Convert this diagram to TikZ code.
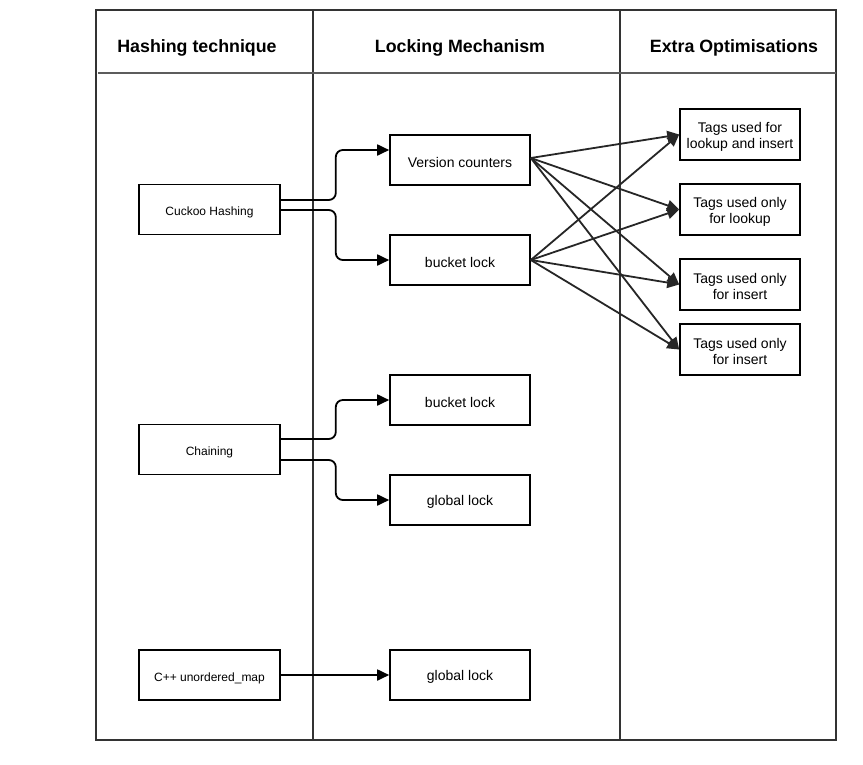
\documentclass[tikz,border=0pt]{standalone}
\usepackage{fontspec}
\setmainfont{Liberation Sans}
\usetikzlibrary{arrows.meta}
\definecolor{frame}{HTML}{333333}
\begin{document}
\begin{tikzpicture}[x=1pt,y=-1pt,
  lane/.style={draw=frame,line width=1.9pt},
  hdr/.style={font=\fontsize{17.8}{20}\selectfont\bfseries,inner sep=0pt},
  lbl/.style={yshift=-2pt,inner sep=0pt,align=center,font=\fontsize{14}{16}\selectfont},
  slbl/.style={lbl,yshift=-1pt,font=\fontsize{12}{14}\selectfont},
  box/.style={draw=black,line width=1.6pt,fill=white,minimum width=140pt,minimum height=50pt,inner sep=0pt,label={[lbl]center:#1}},
  sbox/.style={draw=black,line width=1.6pt,fill=white,minimum width=141pt,minimum height=50pt,inner sep=0pt,label={[slbl]center:#1}},
  tbox/.style={box=#1,minimum width=120pt,minimum height=51pt},
  conn/.style={draw=black,line width=1.8pt,-{Triangle[length=12pt,width=11pt]},rounded corners=7pt},
  xconn/.style={draw=black!85,line width=1.8pt,-{Triangle[length=12pt,width=11pt]}}]
\useasboundingbox (0,0) rectangle (863,764);
\fill[white] (0,0) rectangle (863,764);
% frame
\draw[lane] (96,10) rectangle (836,740);
\draw[lane] (313,10) -- (313,740);
\draw[lane] (620,10) -- (620,740);
\draw[lane,draw=frame!80] (98,73) -- (836,73);
% headers
\node[hdr] (h1) at (197,48) {Hashing technique};
\node[hdr] (h2) at (460,48) {Locking Mechanism};
\node[hdr] (h3) at (734,48) {Extra Optimisations};
% column 1
\node[sbox={Cuckoo Hashing}] (cuckoo) at (209.5,209.5) {};
\node[sbox={Chaining}] (chain) at (209.5,449.5) {};
\node[sbox={C++ unordered\_map}] (cpp) at (209.5,675) {};
% column 2
\node[box={Version counters}] (vc) at (460,160) {};
\node[box={bucket lock}] (bl1) at (460,260) {};
\node[box={bucket lock}] (bl2) at (460,400) {};
\node[box={global lock}] (gl1) at (460,500) {};
\node[box={global lock}] (gl2) at (460,675) {};
% column 3
\node[tbox={Tags used for\\lookup and insert}] (t1) at (740,134.5) {};
\node[tbox={Tags used only\\for lookup}] (t2) at (740,209.5) {};
\node[tbox={Tags used only\\for insert}] (t3) at (740,284.5) {};
\node[tbox={Tags used only\\for insert}] (t4) at (740,349.5) {};
% connectors
\draw[conn] ([yshift=9.5pt]cuckoo.east) -- ++(55,0) |- ([yshift=10pt]vc.west);
\draw[conn] ([yshift=-0.5pt]cuckoo.east) -- ++(55,0) |- (bl1.west);
\draw[conn] ([yshift=10.5pt]chain.east) -- ++(55,0) |- (bl2.west);
\draw[conn] ([yshift=-10.5pt]chain.east) -- ++(55,0) |- (gl1.west);
\draw[conn] (cpp.east) -- (gl2.west);
\foreach \t in {t1,t2,t3,t4}{
  \draw[xconn] ([yshift=2pt]vc.east) -- (\t.west);
  \draw[xconn] (bl1.east) -- (\t.west);
}
\end{tikzpicture}
\end{document}
